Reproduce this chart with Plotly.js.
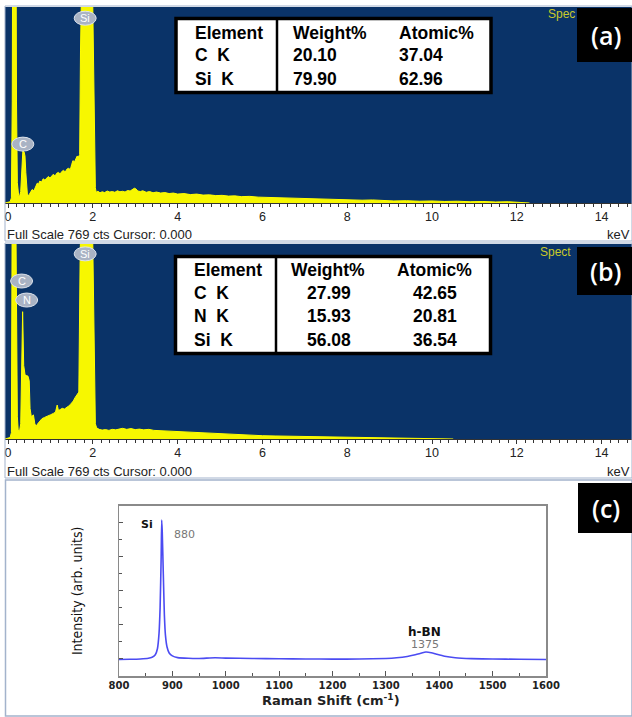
<!DOCTYPE html>
<html>
<head>
<meta charset="utf-8">
<script src="https://cdn.plot.ly/plotly-3.0.1.min.js"></script>
<style>html,body{margin:0;padding:0;background:#fff;}#chart{width:632px;height:717px;}</style>
</head>
<body>
<div id="chart"></div>
<script>
// ---------- DATA ----------
// EDS spectrum (a): energy (keV) and counts
var edsA_keV = [
  -0.07, 0.00, 0.05, 0.08, 0.10, 0.11, 0.19, 0.20, 0.22, 0.25,
  0.27, 0.30, 0.33, 0.35, 0.38, 0.40, 0.42, 0.44, 0.46, 0.50,
  0.54, 0.57, 0.61, 0.65, 0.69, 0.72, 0.75, 0.79, 0.83, 0.87,
  0.91, 0.95, 0.99, 1.03, 1.07, 1.11, 1.15, 1.19, 1.23, 1.27,
  1.31, 1.35, 1.39, 1.43, 1.47, 1.50, 1.53, 1.57, 1.60, 1.63,
  1.66, 1.69, 1.71, 1.75, 1.98, 2.03, 2.06, 2.08, 2.12, 2.17,
  2.22, 2.28, 2.34, 2.40, 2.46, 2.52, 2.58, 2.64, 2.70, 2.76,
  2.82, 2.88, 2.94, 2.98, 3.02, 3.06, 3.12, 3.18, 3.26, 3.34,
  3.42, 3.50, 3.60, 3.70, 3.80, 3.90, 4.00, 4.15, 4.30, 4.45,
  4.60, 4.75, 4.90, 5.05, 5.20, 5.35, 5.50, 5.70, 5.90, 6.10,
  6.30, 6.50, 6.70, 6.90, 7.10, 7.35, 7.60, 7.85, 8.10, 8.35,
  8.60, 8.85, 9.10, 9.40, 9.70, 10.00, 10.30, 10.60, 10.90, 11.20,
  11.50, 11.80, 12.10, 12.30
];
var edsA_counts = [
  0, 2, 5, 20, 400, 1000, 1000, 400, 80, 30,
  25, 45, 150, 205, 200, 185, 120, 45, 27, 33,
  45, 53, 48, 66, 78, 74, 86, 82, 95, 90,
  99, 104, 98, 108, 113, 106, 117, 120, 114, 124,
  128, 122, 133, 136, 131, 150, 166, 162, 176, 184,
  180, 190, 600, 1000, 1000, 500, 60, 42, 46, 40,
  44, 41, 47, 43, 45, 42, 48, 44, 46, 43,
  49, 47, 52, 58, 55, 47, 45, 48, 42, 45,
  40, 43, 39, 41, 37, 39, 35, 37, 33, 35,
  31, 32, 29, 30, 27, 28, 25, 26, 23, 22,
  20, 19, 17, 16, 15, 14, 15, 13, 12, 11,
  12, 9, 8, 9, 7, 8, 6, 7, 5, 6,
  4, 5, 3, 0
];
// EDS spectrum (b)
var edsB_keV = [
  -0.07, 0.00, 0.05, 0.08, 0.10, 0.18, 0.20, 0.22, 0.24, 0.27,
  0.30, 0.32, 0.345, 0.37, 0.40, 0.43, 0.47, 0.50, 0.52, 0.55,
  0.57, 0.60, 0.63, 0.66, 0.70, 0.75, 0.80, 0.86, 0.91, 0.96,
  1.01, 1.07, 1.12, 1.16, 1.19, 1.23, 1.28, 1.33, 1.38, 1.43,
  1.47, 1.50, 1.54, 1.58, 1.63, 1.67, 1.70, 1.73, 1.98, 2.03,
  2.06, 2.09, 2.15, 2.22, 2.30, 2.38, 2.46, 2.54, 2.62, 2.70,
  2.80, 2.90, 3.00, 3.10, 3.20, 3.32, 3.44, 3.56, 3.70, 3.85,
  4.00, 4.20, 4.40, 4.60, 4.80, 5.00, 5.25, 5.50, 5.75, 6.00,
  6.30, 6.60, 6.90, 7.20, 7.50, 7.80, 8.10, 8.40, 8.70, 9.00,
  9.30, 9.60, 9.90, 10.20, 10.50
];
var edsB_counts = [
  0, 2, 6, 25, 1000, 1000, 300, 90, 35, 29,
  60, 250, 502, 290, 255, 250, 248, 230, 120, 88,
  90, 95, 62, 49, 60, 68, 80, 85, 88, 92,
  96, 101, 106, 134, 112, 116, 121, 118, 123, 130,
  136, 141, 150, 163, 174, 185, 700, 1000, 1000, 500,
  60, 44, 38, 35, 37, 34, 38, 36, 40, 42,
  38, 41, 37, 39, 36, 38, 34, 33, 31, 30,
  29, 27, 24, 22, 20, 19, 17, 16, 14, 13,
  12, 11, 10, 9, 9, 8, 7, 6, 5, 5,
  4, 4, 3, 2, 0
];
var edsFullScale = 769;
var edsTickVals = [0, 2, 4, 6, 8, 10, 12, 14];
var edsTickText = ['0', '2', '4', '6', '8', '10', '12', '14'];

// Peak identification badges
var badgeA_names = ['C', 'Si'];
var badgeA_keV = [0.35, 1.82];
var badgeA_counts = [231, 725];
var badgeB_names = ['C', 'N', 'Si'];
var badgeB_keV = [0.32, 0.44, 1.82];
var badgeB_counts = [623, 548, 730];

// Quantification tables
var tableHeader = ['Element', 'Weight%', 'Atomic%'];
var tableA_element = ['C  K', 'Si  K'];
var tableA_weight = [20.10, 79.90];
var tableA_atomic = [37.04, 62.96];
var tableB_element = ['C  K', 'N  K', 'Si  K'];
var tableB_weight = [27.99, 15.93, 56.08];
var tableB_atomic = [42.65, 20.81, 36.54];

// Raman spectrum (c)
var ramanShift = [
  800, 820, 840, 855, 862, 868, 872, 875, 877, 879,
  880, 881, 883, 885, 887, 890, 894, 900, 910, 930,
  950, 980, 1000, 1050, 1100, 1150, 1200, 1250, 1300, 1320,
  1340, 1355, 1365, 1375, 1385, 1395, 1410, 1430, 1460, 1500,
  1550, 1600
];
var ramanIntensity = [
  0.97, 0.98, 1.00, 1.04, 1.10, 1.25, 1.6, 2.5, 4.0, 7.0,
  9.16, 8.5, 6.0, 3.6, 2.4, 1.7, 1.35, 1.18, 1.08, 1.04,
  1.03, 1.07, 1.05, 1.03, 1.01, 1.00, 0.99, 1.00, 1.03, 1.07,
  1.15, 1.25, 1.33, 1.41, 1.37, 1.28, 1.16, 1.07, 1.02, 1.00,
  0.98, 0.97
];
var ramanPeakNames = ['Si', 'h-BN'];
var ramanPeakPos = [880, 1375];
var ramanTickVals = [800, 900, 1000, 1100, 1200, 1300, 1400, 1500, 1600];
var ramanXTitle = 'Raman Shift (cm<sup>-1</sup>)';
var ramanYTitle = 'Intensity (arb. units)';

var panelLetters = ['(a)', '(b)', '(c)'];

// ---------- LAYOUT HELPERS ----------
var W = 632, H = 717;
function px(v) { return v / W; }
function py(v) { return 1 - v / H; }

var NAVY = '#0a3368';
var FRAME = '#a3b3cc';
var tableFont = 'Liberation Sans, Arial, sans-serif';

var traces = [
  {x: edsA_keV, y: edsA_counts, xaxis: 'x', yaxis: 'y', type: 'scatter', mode: 'lines',
   fill: 'tozeroy', fillcolor: '#f7f700', line: {color: '#ffff00', width: 1}, hoverinfo: 'skip'},
  {x: edsB_keV, y: edsB_counts, xaxis: 'x2', yaxis: 'y2', type: 'scatter', mode: 'lines',
   fill: 'tozeroy', fillcolor: '#f7f700', line: {color: '#ffff00', width: 1}, hoverinfo: 'skip'},
  {x: ramanShift, y: ramanIntensity, xaxis: 'x3', yaxis: 'y3', type: 'scatter', mode: 'lines',
   line: {color: '#4b4bf2', width: 1.6, shape: 'spline', smoothing: 0.5}, hoverinfo: 'skip'}
];

function edsXAxis(anchor) {
  return {
    domain: [px(5), 1], range: [-0.071, 14.717], anchor: anchor,
    tickmode: 'array', tickvals: edsTickVals, ticktext: edsTickText,
    ticks: 'outside', ticklen: 4, tickcolor: '#333', tickwidth: 1,
    minor: {tickmode: 'linear', tick0: 0, dtick: 0.2, ticks: 'outside', ticklen: 3, tickcolor: '#333'},
    showline: true, linecolor: '#333', linewidth: 1,
    showgrid: false, zeroline: false, fixedrange: true,
    tickfont: {family: 'Liberation Sans, Arial, sans-serif', size: 12.5, color: '#222'},
    ticklabelstandoff: -2
  };
}

var layout = {
  width: W, height: H,
  margin: {l: 0, r: 0, t: 0, b: 0},
  paper_bgcolor: '#ffffff', plot_bgcolor: '#ffffff',
  showlegend: false,
  xaxis: edsXAxis('y'),
  yaxis: {domain: [py(203), py(7)], range: [0, edsFullScale], anchor: 'x', visible: false, fixedrange: true},
  xaxis2: edsXAxis('y2'),
  yaxis2: {domain: [py(439), py(244)], range: [0, edsFullScale], anchor: 'x2', visible: false, fixedrange: true},
  xaxis3: {
    domain: [px(119), px(546)], range: [800, 1600], anchor: 'y3',
    tickmode: 'array', tickvals: ramanTickVals,
    ticks: 'inside', ticklen: 5, tickcolor: '#555',
    minor: {tickmode: 'linear', tick0: 800, dtick: 50, ticks: 'inside', ticklen: 3, tickcolor: '#555'},
    showline: true, mirror: true, linecolor: '#8a8a8a', linewidth: 1.5,
    showgrid: false, zeroline: false, fixedrange: true,
    tickfont: {family: 'DejaVu Sans, sans-serif', size: 10, color: '#222', weight: 'bold'},
    ticklabelstandoff: -1
  },
  yaxis3: {
    domain: [py(676), py(505.7)], range: [0, 10], anchor: 'x3',
    tickmode: 'linear', tick0: 1, dtick: 2,
    ticks: 'inside', ticklen: 4, tickcolor: '#555',
    minor: {tickmode: 'linear', tick0: 0, dtick: 1, ticks: 'inside', ticklen: 3, tickcolor: '#555'},
    showticklabels: false,
    showline: true, mirror: true, linecolor: '#8a8a8a', linewidth: 1.5,
    showgrid: false, zeroline: false, fixedrange: true,
    title: {text: ramanYTitle, standoff: 31,
            font: {family: 'Liberation Sans Narrow, DejaVu Sans Condensed, Arial Narrow, sans-serif', size: 14, color: '#111'}}
  },
  shapes: [],
  annotations: []
};

// Navy EDS plot backgrounds
['', '2'].forEach(function (s) {
  layout.shapes.push({type: 'rect', xref: 'x' + s + ' domain', yref: 'y' + s + ' domain',
    x0: 0, x1: 1, y0: 0, y1: 1, fillcolor: NAVY, line: {width: 0}, layer: 'below'});
});

// Panel frames
layout.shapes.push({type: 'rect', xref: 'paper', yref: 'paper', x0: px(5), x1: px(632), y0: py(241), y1: py(6),
  line: {color: FRAME, width: 1}, layer: 'above'});
layout.shapes.push({type: 'rect', xref: 'paper', yref: 'paper', x0: px(5), x1: px(632), y0: py(478), y1: py(243),
  line: {color: FRAME, width: 1}, layer: 'above'});
layout.shapes.push({type: 'rect', xref: 'paper', yref: 'paper', x0: px(5.5), x1: px(632), y0: py(716), y1: py(480),
  line: {color: FRAME, width: 1.5}, layer: 'above'});

// Peak badges
function addBadges(names, keV, counts, s) {
  names.forEach(function (n, i) {
    layout.shapes.push({type: 'circle', xref: 'x' + s, yref: 'y' + s,
      xsizemode: 'pixel', ysizemode: 'pixel', xanchor: keV[i], yanchor: counts[i],
      x0: -11, x1: 11, y0: -7, y1: 7,
      fillcolor: '#a9b3c4', line: {color: '#dde3ec', width: 1}, layer: 'above'});
    layout.annotations.push({xref: 'x' + s, yref: 'y' + s, x: keV[i], y: counts[i], text: n,
      showarrow: false, xanchor: 'center', yanchor: 'middle',
      font: {family: 'Liberation Sans, Arial, sans-serif', size: 11, color: '#ffffff'}});
  });
}
addBadges(badgeA_names, badgeA_keV, badgeA_counts, '');
addBadges(badgeB_names, badgeB_keV, badgeB_counts, '2');

// Tables
function addTable(box, divX, rowsY, colX, colAnchor, elems, weights, atomics) {
  layout.shapes.push({type: 'rect', xref: 'paper', yref: 'paper',
    x0: px(box[0]), x1: px(box[1]), y0: py(box[3]), y1: py(box[2]),
    fillcolor: '#ffffff', line: {color: '#000000', width: 3.5}, layer: 'above'});
  layout.shapes.push({type: 'line', xref: 'paper', yref: 'paper',
    x0: px(divX), x1: px(divX), y0: py(box[3]), y1: py(box[2]),
    line: {color: '#000000', width: 2.5}, layer: 'above'});
  var rows = [tableHeader];
  elems.forEach(function (e, i) {
    rows.push([e.replace(/ /g, '\u00a0'), weights[i].toFixed(2), atomics[i].toFixed(2)]);
  });
  rows.forEach(function (r, ri) {
    r.forEach(function (txt, ci) {
      var anchor = (ri === 0 && ci > 0) ? colAnchor[ci].h : colAnchor[ci].v;
      var xpos = (ri === 0 && ci > 0) ? colX[ci].h : colX[ci].v;
      layout.annotations.push({xref: 'paper', yref: 'paper', x: px(xpos), y: py(rowsY[ri]),
        text: '<b>' + txt + '</b>', showarrow: false, xanchor: anchor, yanchor: 'middle',
        font: {family: tableFont, size: 17.5, color: '#000000'}});
    });
  });
}
addTable([176, 491, 18.5, 92.5], 277, [32.7, 55.5, 79],
  [{h: 192.5, v: 192.5}, {h: 290.5, v: 290.5}, {h: 396.5, v: 396.5}],
  [{h: 'left', v: 'left'}, {h: 'left', v: 'left'}, {h: 'left', v: 'left'}],
  tableA_element, tableA_weight, tableA_atomic);
addTable([175.5, 490.5, 256.5, 353.5], 276, [269.5, 293.3, 316.3, 340],
  [{h: 191.7, v: 191.7}, {h: 327.5, v: 328.5}, {h: 434, v: 434.5}],
  [{h: 'left', v: 'left'}, {h: 'center', v: 'center'}, {h: 'center', v: 'center'}],
  tableB_element, tableB_weight, tableB_atomic);

// "Spectrum" captions (partly hidden behind the panel letters)
layout.annotations.push({xref: 'paper', yref: 'paper', x: px(546), y: py(14), text: 'Spec',
  showarrow: false, xanchor: 'left', yanchor: 'middle',
  font: {family: 'Liberation Sans, Arial, sans-serif', size: 12, color: '#c9c92a'}});
layout.annotations.push({xref: 'paper', yref: 'paper', x: px(538), y: py(252), text: 'Spect',
  showarrow: false, xanchor: 'left', yanchor: 'middle',
  font: {family: 'Liberation Sans, Arial, sans-serif', size: 12, color: '#c9c92a'}});

// Panel letter boxes
var letterBoxes = [[577, 632, 8, 62], [577, 632, 247, 295], [578, 632, 483, 533]];
panelLetters.forEach(function (t, i) {
  var b = letterBoxes[i];
  layout.shapes.push({type: 'rect', xref: 'paper', yref: 'paper', x0: px(b[0]), x1: px(b[1]),
    y0: py(b[3]), y1: py(b[2]), fillcolor: '#000000', line: {width: 0}, layer: 'above'});
  layout.annotations.push({xref: 'paper', yref: 'paper', x: px((b[0] + b[1]) / 2 + 1), y: py((b[2] + b[3]) / 2),
    text: t, showarrow: false, xanchor: 'center', yanchor: 'middle',
    font: {family: 'Open Sans, Noto Sans, sans-serif', size: 25, color: '#ffffff', weight: 600}});
});

// EDS status lines
[[234], [471]].forEach(function (r) {
  layout.annotations.push({xref: 'paper', yref: 'paper', x: px(5), y: py(r[0]),
    text: 'Full Scale ' + edsFullScale + ' cts Cursor: 0.000', showarrow: false, xanchor: 'left', yanchor: 'middle',
    font: {family: 'Liberation Sans, Arial, sans-serif', size: 13, color: '#222'}});
  layout.annotations.push({xref: 'paper', yref: 'paper', x: px(632), y: py(r[0]),
    text: 'keV', showarrow: false, xanchor: 'right', yanchor: 'middle',
    font: {family: 'Liberation Sans, Arial, sans-serif', size: 13, color: '#222'}});
});

// Raman x-axis title (sits tight under the tick labels, as in the original)
layout.annotations.push({xref: 'paper', yref: 'paper', x: px(331), y: py(700), text: ramanXTitle,
  showarrow: false, xanchor: 'center', yanchor: 'middle',
  font: {family: 'DejaVu Sans, sans-serif', size: 13, color: '#222', weight: 'bold'}});

// Raman peak labels
ramanPeakNames.forEach(function (n, i) {
  var k = ramanShift.indexOf(ramanPeakPos[i]);
  var yv = ramanIntensity[k];
  var isSi = (i === 0);
  layout.annotations.push({xref: 'x3', yref: 'y3', x: ramanPeakPos[i], y: yv, text: '<b>' + n + '</b>',
    showarrow: false, xanchor: 'center', yanchor: 'middle',
    xshift: isSi ? -15 : -1, yshift: isSi ? -4 : 20,
    font: {family: 'DejaVu Sans, sans-serif', size: isSi ? 11 : 12, color: '#111'}});
  layout.annotations.push({xref: 'x3', yref: 'y3', x: ramanPeakPos[i], y: yv, text: String(ramanPeakPos[i]),
    showarrow: false, xanchor: 'center', yanchor: 'middle',
    xshift: isSi ? 23 : -1, yshift: isSi ? -14 : 7,
    font: {family: 'DejaVu Sans, sans-serif', size: 11, color: '#777'}});
});

Plotly.newPlot('chart', traces, layout, {staticPlot: true, displayModeBar: false});
</script>
</body>
</html>
